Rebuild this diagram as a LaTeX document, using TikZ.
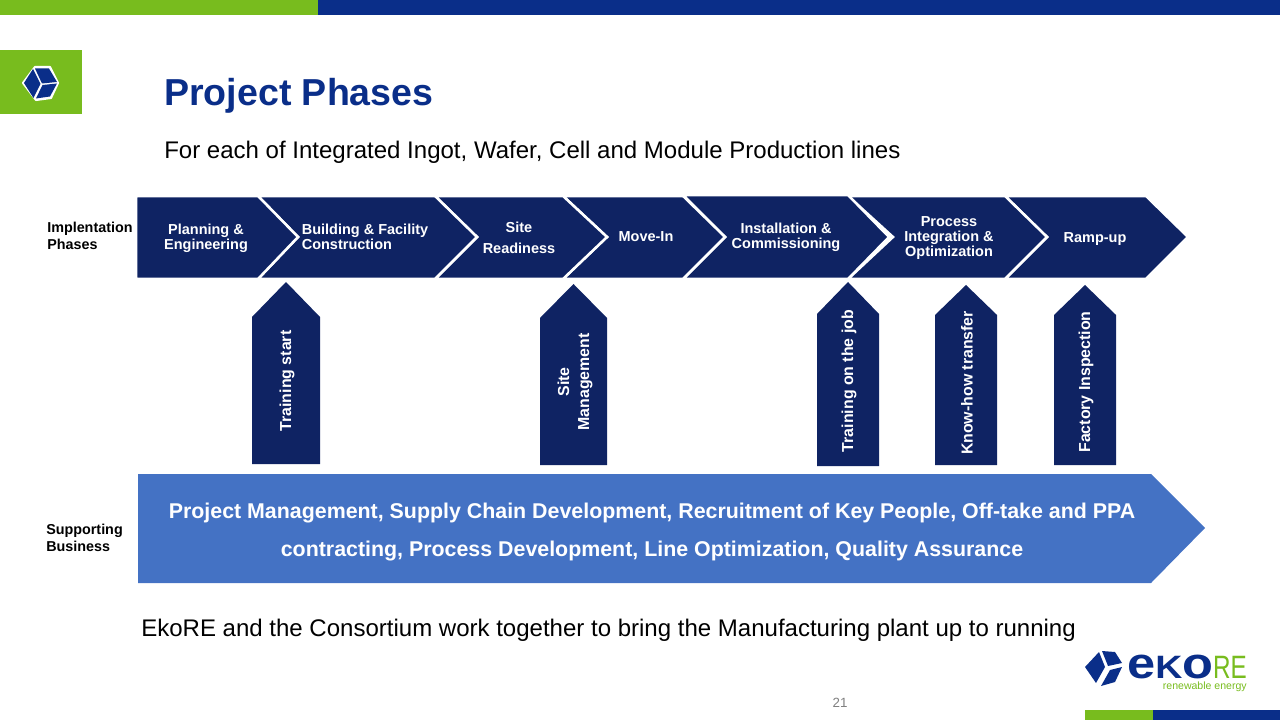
\documentclass[tikz,border=0pt]{standalone}
\usepackage{fontspec}
\setmainfont{Liberation Sans}
\definecolor{ekoblue}{RGB}{10,46,137}
\definecolor{ekogreen}{RGB}{120,188,30}
\definecolor{navybox}{RGB}{15,35,99}
\definecolor{midblue}{RGB}{68,114,196}
\tikzset{
  chevronbox/.style={fill=navybox,draw=white,line width=1.8pt,line join=miter},
  upbox/.style={fill=navybox},
  chevlabel/.style={text=white,font=\fontsize{10.3}{10.9}\selectfont\bfseries,align=center,inner sep=0pt},
  uplabel/.style={chevlabel,rotate=90,font=\fontsize{11.3}{14.2}\selectfont\bfseries},
  sidelabel/.style={font=\fontsize{10.2}{12.4}\selectfont\bfseries,align=left,inner sep=0pt,anchor=west},
  linelabel/.style={font=\fontsize{17.08}{20}\selectfont,inner sep=0pt,anchor=west},
}
\begin{document}
\begin{tikzpicture}[x=0.025cm,y=-0.025cm]
    \useasboundingbox (0,0) rectangle (1280,720);
    % bars
    \fill[ekoblue] (0,0) rectangle (1280,15);
    \fill[ekogreen] (0,0) rectangle (318,15);
    \fill[ekoblue] (1085,710) rectangle (1280,720);
    \fill[ekogreen] (1085,710) rectangle (1153,720);
    \fill[ekogreen] (0,50) rectangle (82,114);
    % cube icon
    \fill[white,draw=white,line width=1.5pt,line join=round] (35,67) -- (50,67) -- (58,83) -- (51,98) -- (36,100) -- (23,83) -- cycle;
    \fill[ekoblue] (35,68.5) -- (49,68.5) -- (57,82) -- (42,83.5) -- cycle;
    \fill[ekoblue] (33,69) -- (40.5,84) -- (33.5,98) -- (24,83) -- cycle;
    \fill[ekoblue] (42.5,85) -- (57,83.5) -- (50,96.5) -- (36,98.5) -- cycle;
    % titles
    \node[anchor=west,inner sep=0pt,text=ekoblue,font=\fontsize{26.7}{30}\selectfont\bfseries] (title) at (164,96) {Project Phases};
    \node[linelabel] (subtitle) at (164,152) {For each of Integrated Ingot, Wafer, Cell and Module Production lines};
    % chevrons, last one first so that each lies on the next
    \draw[chevronbox] (1005,196) -- (1146,196) -- (1188,237) -- (1146,279) -- (1005,279) -- (1047,237) -- cycle;
    \draw[chevronbox] (848,196) -- (1005,196) -- (1047,237) -- (1005,279) -- (848,279) -- (893,237) -- cycle;
    \draw[chevronbox] (683,195) -- (848,195) -- (889,237) -- (848,279) -- (683,279) -- (725,237) -- cycle;
    \draw[chevronbox] (563,196) -- (683,196) -- (725,237) -- (683,279) -- (563,279) -- (607,237) -- cycle;
    \draw[chevronbox] (435,196) -- (563,196) -- (607,237) -- (563,279) -- (435,279) -- (477,237) -- cycle;
    \draw[chevronbox] (258,196) -- (435,196) -- (477,237) -- (435,279) -- (258,279) -- (298,237) -- cycle;
    \draw[chevronbox] (136,196) -- (258,196) -- (298,237) -- (258,279) -- (136,279) -- cycle;
    \foreach \n/\x/\y/\txt in {
        plan/206/238/{Planning \&\\Engineering},
        move/646/237/{Move-In},
        install/786/237/{Installation \&\\Commissioning},
        process/949/238/{Process\\Integration \&\\Optimization},
        ramp/1095/239/{Ramp-up}} {
      \node[chevlabel] (\n) at (\x,\y) {\txt};
    }
    \node[chevlabel,align=left] (build) at (365,237) {Building \& Facility\\Construction};
    \node[chevlabel,font=\fontsize{10.3}{14.7}\selectfont\bfseries] (site) at (519,238) {Site\\Readiness};
    % support arrows
    \foreach \n/\l/\r/\ty/\sy/\by/\lx/\ly/\txt in {
        start/252/320/282/317/464/287/381/{Training start},
        mgmt/540/607/284/318/465/575/382/{Site\\Management},
        job/817/879/282/314/466/849/381/{Training on the job},
        howto/935/997/285/315/465/967/383/{Know-how transfer},
        insp/1054/1116/285/315/465/1086/382/{Factory Inspection}} {
      \fill[upbox] (\l,\by) -- (\l,\sy) -- ({(\l+\r)/2},\ty) -- (\r,\sy) -- (\r,\by) -- cycle;
      \node[uplabel] (\n) at (\lx,\ly) {\txt};
    }
    % supporting business
    \fill[midblue] (138,474) -- (1151,474) -- (1205,528) -- (1151,583) -- (138,583) -- cycle;
    \node[text=white,align=center,inner sep=0pt,font=\fontsize{15.2}{27}\selectfont\bfseries] (support) at (652,532)
      {Project Management, Supply Chain Development, Recruitment of Key People, Off-take and PPA\\
       contracting, Process Development, Line Optimization, Quality Assurance};
    \node[sidelabel] (implab) at (47,236) {Implentation\\Phases};
    \node[sidelabel] (suplab) at (46,538) {Supporting\\Business};
    \node[linelabel] (closing) at (141,630) {EkoRE and the Consortium work together to bring the Manufacturing plant up to running};
    \node[inner sep=0pt,text=gray,font=\fontsize{9.5}{11}\selectfont] (pagenum) at (840,703) {21};
    % logo
    \fill[ekoblue] (1102,651) -- (1115,652) -- (1122,663) -- (1108,666) -- cycle;
    \fill[ekoblue] (1099,652) -- (1105,667) -- (1096,683) -- (1085,667) -- cycle;
    \fill[ekoblue] (1110,670) -- (1122,667) -- (1115,682) -- (1101,686) -- cycle;
    \node[anchor=base west,inner sep=0pt,text=ekoblue,xscale=1.16,font=\fontsize{31}{31}\selectfont\bfseries] (logoeko) at (1127,678) {e{\fontsize{23}{23}\selectfont K}o};
    \node[anchor=base east,inner sep=0pt,text=ekogreen,xscale=.75,font=\fontsize{23}{23}\selectfont] (logore) at (1247,678) {RE};
    \node[anchor=east,inner sep=0pt,text=ekogreen,font=\fontsize{7.5}{9}\selectfont] (logotag) at (1247,687) {renewable energy};
  \end{tikzpicture}
\end{document}
